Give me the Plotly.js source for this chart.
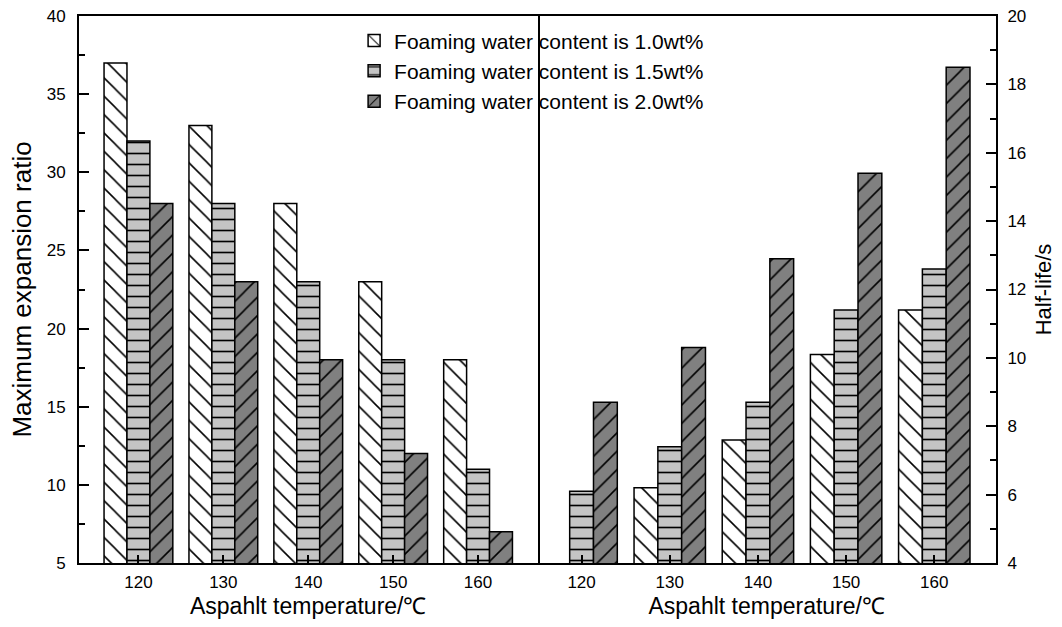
<!DOCTYPE html>
<html>
<head>
<meta charset="utf-8">
<script src="https://cdn.plot.ly/plotly-3.0.1.min.js"></script>
<style>html,body{margin:0;padding:0;background:#fff}#chart{width:1062px;height:627px}</style>
</head>
<body>
<div id="chart"></div>
<script>
const categories = ["120", "130", "140", "150", "160"];
const seriesNames = ["Foaming water content is 1.0wt%", "Foaming water content is 1.5wt%", "Foaming water content is 2.0wt%"];
const expansion10 = [37, 33, 28, 23, 18];
const expansion15 = [32, 28, 23, 18, 11];
const expansion20 = [28, 23, 18, 12, 7];
const halfLife10 = [null, 6.2, 7.6, 10.1, 11.4];
const halfLife15 = [6.1, 7.4, 8.7, 11.4, 12.6];
const halfLife20 = [8.7, 10.3, 12.9, 15.4, 18.5];
const xTitle = "Aspahlt temperature/℃";
const yTitleLeft = "Maximum expansion ratio";
const yTitleRight = "Half-life/s";

const FONT = "Liberation Sans, Arial, sans-serif";
const styles = [
  {color: "#ffffff", pattern: {shape: "\\", bgcolor: "#ffffff", fgcolor: "#000000", size: 13, solidity: 0.12}},
  {color: "#c4c4c4", pattern: {shape: "-", bgcolor: "#c4c4c4", fgcolor: "#000000", size: 11, solidity: 0.15}},
  {color: "#808080", pattern: {shape: "/", bgcolor: "#808080", fgcolor: "#000000", size: 13, solidity: 0.12}}
];
const leftData = [expansion10, expansion15, expansion20];
const rightData = [halfLife10, halfLife15, halfLife20];

const traces = [];
leftData.forEach((vals, i) => {
  traces.push({
    type: "bar", x: categories, y: vals, name: seriesNames[i],
    xaxis: "x", yaxis: "y", legendgroup: "g" + i,
    marker: {color: styles[i].color, pattern: styles[i].pattern, line: {color: "#000", width: 1.5}}
  });
});
rightData.forEach((vals, i) => {
  traces.push({
    type: "bar", x: categories, y: vals, name: seriesNames[i],
    xaxis: "x2", yaxis: "y2", legendgroup: "g" + i, showlegend: false,
    marker: {color: styles[i].color, pattern: styles[i].pattern, line: {color: "#000", width: 1.5}}
  });
});

const axisCommon = {
  showline: true, linecolor: "#000", linewidth: 2, mirror: true,
  showgrid: false, zeroline: false,
  ticks: "inside", tickcolor: "#000", tickwidth: 2,
  tickfont: {family: FONT, size: 17, color: "#000"}
};

const layout = {
  width: 1062, height: 627,
  margin: {l: 79, r: 66, t: 16, b: 64},
  paper_bgcolor: "#fff", plot_bgcolor: "#fff",
  font: {family: FONT, color: "#000"},
  barmode: "group", bargap: 0.19, bargroupgap: 0,
  showlegend: true,
  legend: {x: 0.3, y: 0.992, xanchor: "left", yanchor: "top", bgcolor: "rgba(0,0,0,0)",
           font: {family: FONT, size: 21, color: "#000"}, tracegroupgap: 0},
  xaxis: Object.assign({}, axisCommon, {
    domain: [0, 0.5], type: "category", range: [-0.7, 4.7], ticklen: 8, ticklabelstandoff: 3,
    title: {text: xTitle, font: {family: FONT, size: 23, color: "#000"}, standoff: 6}
  }),
  xaxis2: Object.assign({}, axisCommon, {
    domain: [0.5, 1], type: "category", range: [-0.5, 4.7], ticklen: 8, anchor: "y2", ticklabelstandoff: 3,
    title: {text: xTitle, font: {family: FONT, size: 23, color: "#000"}, standoff: 6}
  }),
  yaxis: Object.assign({}, axisCommon, {
    range: [5, 40], dtick: 5, tick0: 5, ticklen: 10, anchor: "x", ticklabelstandoff: 8,
    minor: {ticks: "inside", dtick: 2.5, ticklen: 6, tickwidth: 2, tickcolor: "#000"},
    title: {text: yTitleLeft, font: {family: FONT, size: 26, color: "#000"}, standoff: 8}
  }),
  yaxis2: Object.assign({}, axisCommon, {
    mirror: false,
    range: [4, 20], dtick: 2, tick0: 4, ticklen: 10, anchor: "x2", side: "right", ticklabelstandoff: 6,
    minor: {ticks: "inside", dtick: 1, ticklen: 6, tickwidth: 2, tickcolor: "#000"},
    title: {text: yTitleRight, font: {family: FONT, size: 22, color: "#000"}, standoff: 10}
  })
};

Plotly.newPlot("chart", traces, layout, {displayModeBar: false, staticPlot: true});
</script>
</body>
</html>
